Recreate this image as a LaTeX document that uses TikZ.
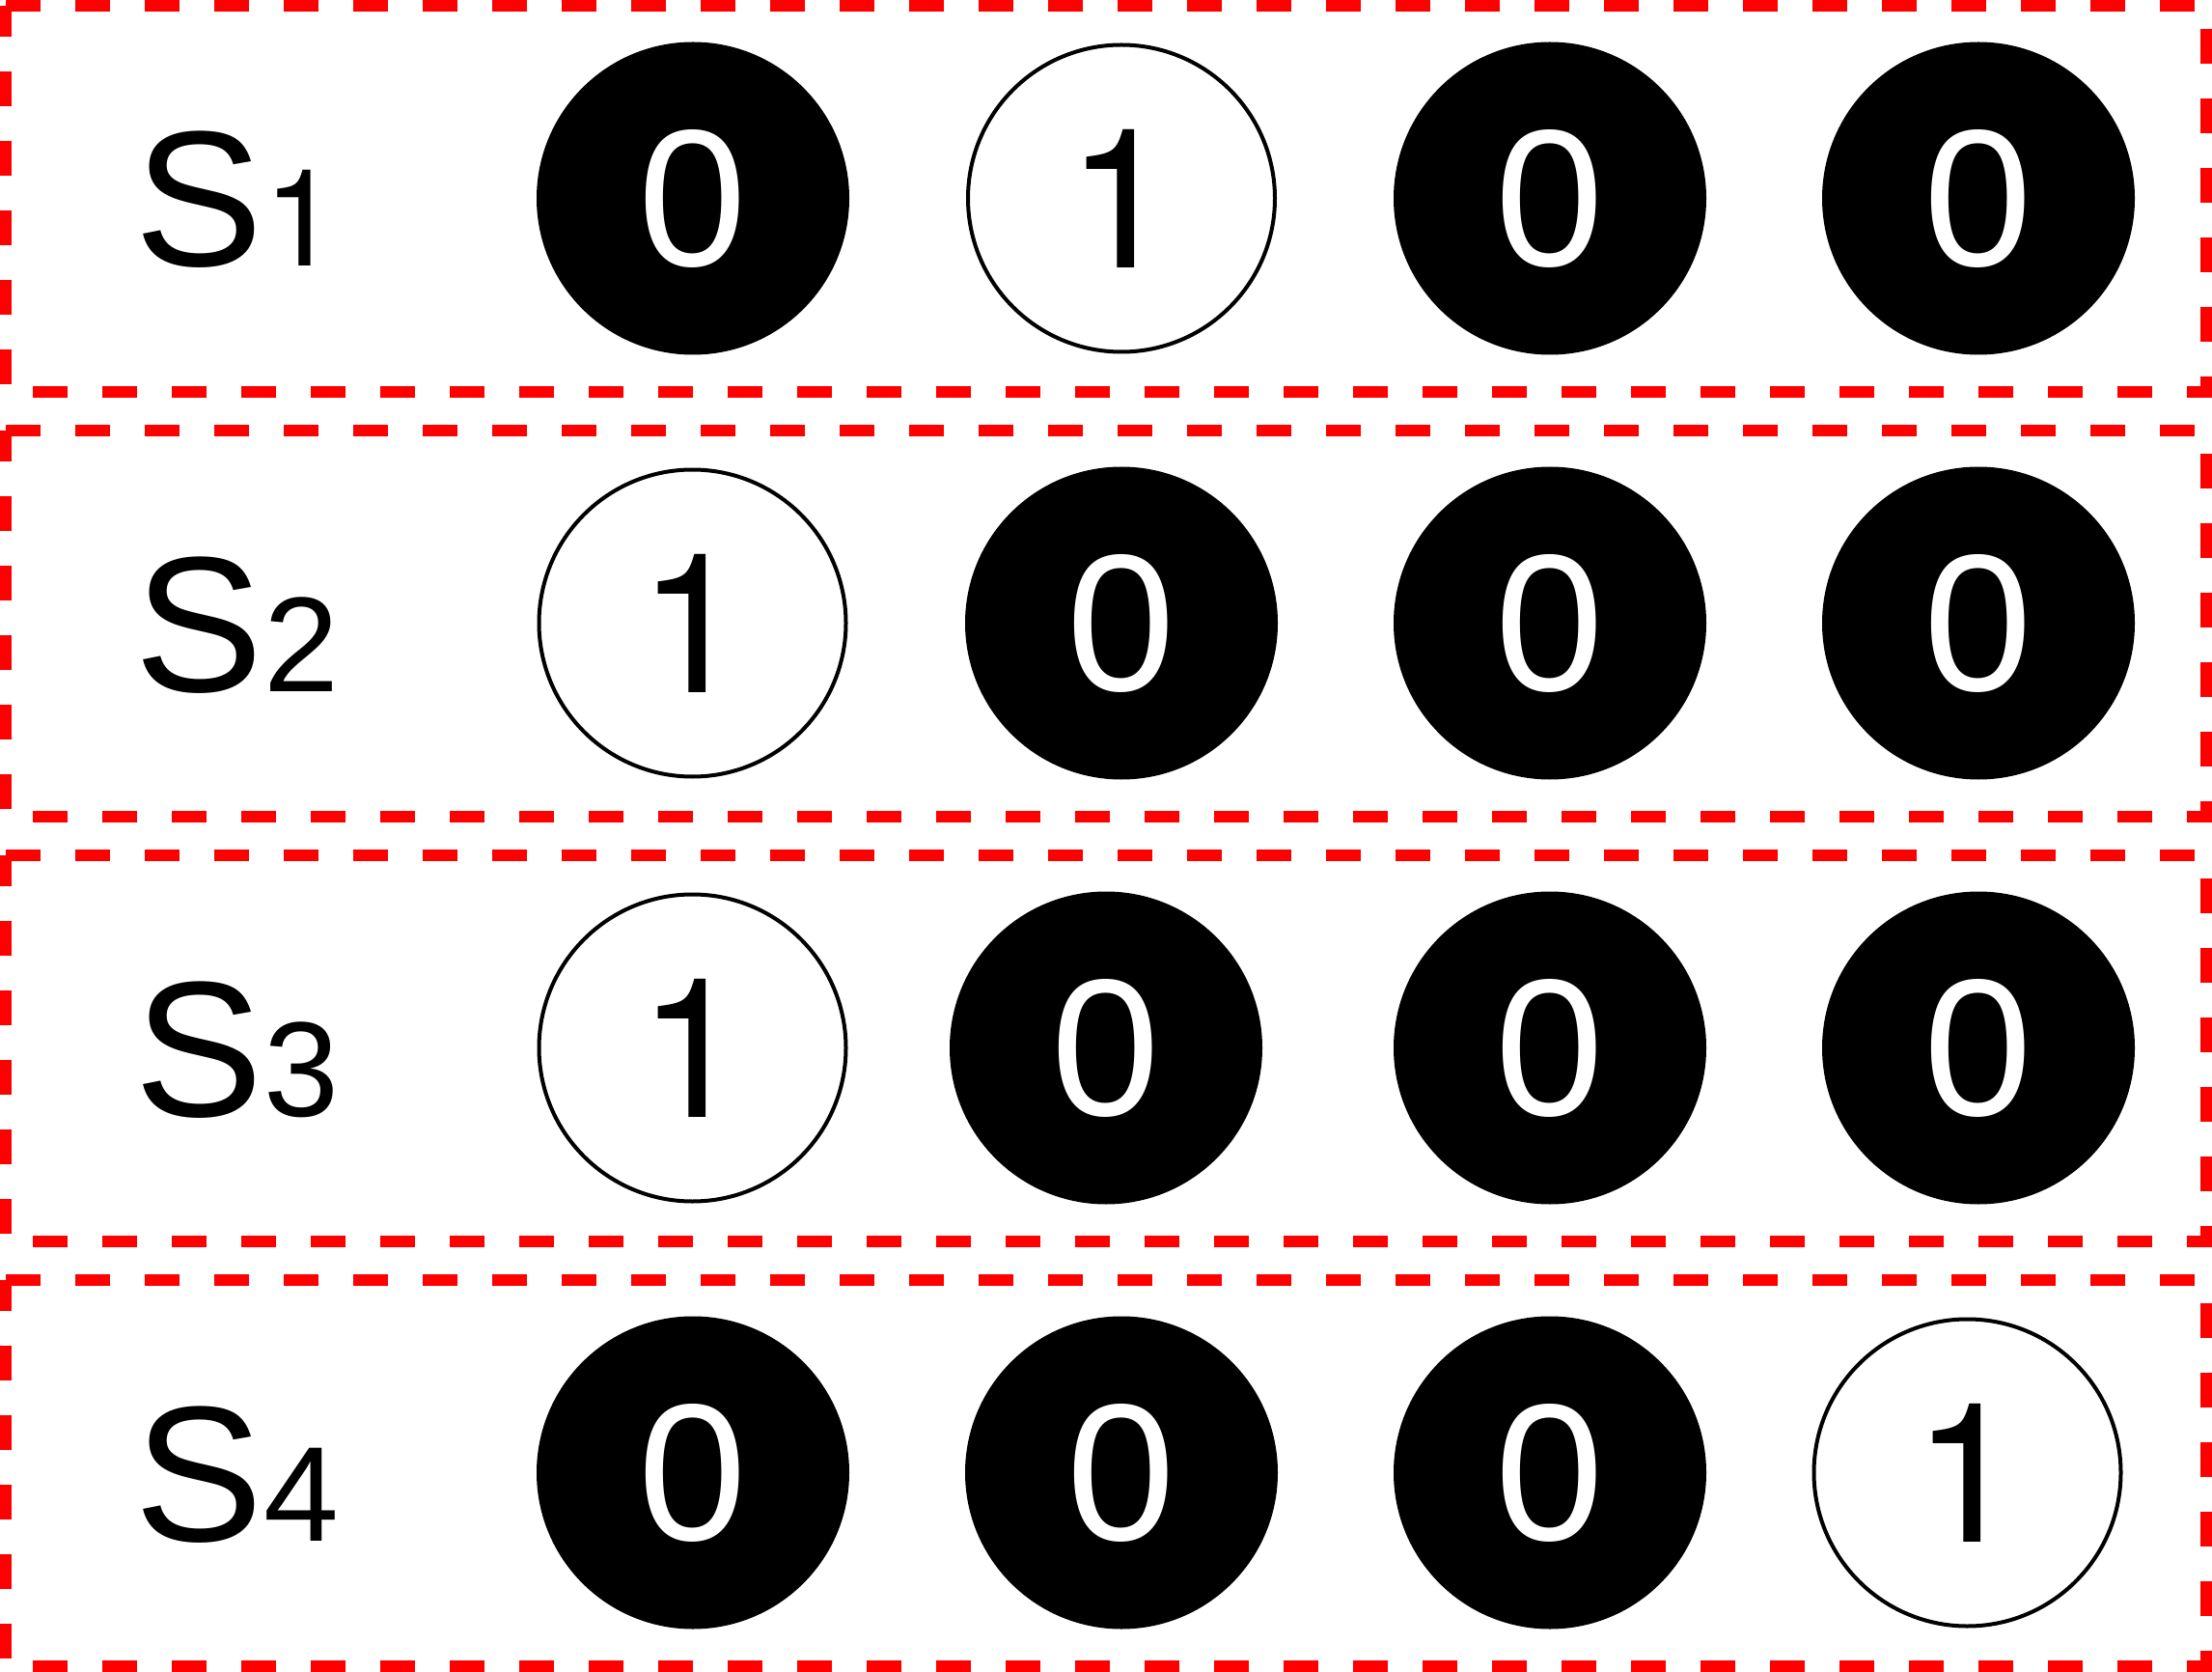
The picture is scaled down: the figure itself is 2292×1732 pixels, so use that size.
\documentclass[tikz,border=0pt]{standalone}
\usepackage{fontspec}
\setmainfont{Liberation Sans}
\newfontfamily\onefont{TeX Gyre Heros}
\begin{document}
\begin{tikzpicture}[x=0.25pt,y=-0.25pt,
  box/.style={draw=red, line width=3pt, dash pattern=on 9pt off 9pt},
  bit/.style={circle, inner sep=0pt, font=\fontsize{50.5}{60}\selectfont},
  zero/.style={bit, fill=black, text=white, minimum size=81pt},
  one/.style={bit, draw=black, fill=white, line width=1pt, minimum size=79.5pt, font=\onefont\fontsize{50.5}{60}\selectfont},
  lbl/.style={anchor=base west, inner sep=0pt, font=\fontsize{50}{60}\selectfont}]
\useasboundingbox (0,0) rectangle (2292,1732);

% dashed frames
\draw[box] (6,6) -- (2286,6) -- (2286,406) -- (6,406) -- cycle;
\draw[box] (6,446) -- (2286,446) -- (2286,846) -- (6,846) -- cycle;
\draw[box] (6,886) -- (2286,886) -- (2286,1286) -- (6,1286) -- cycle;
\draw[box] (6,1326) -- (2286,1326) -- (2286,1726) -- (6,1726) -- cycle;

% labels
\node[lbl] (s1) at (139,276) {S\onefont\fontsize{35}{42}\selectfont 1};
\node[lbl] (s2) at (139,716) {S\fontsize{35}{42}\selectfont 2};
\node[lbl] (s3) at (139,1156) {S\fontsize{35}{42}\selectfont 3};
\node[lbl] (s4) at (139,1596) {S\fontsize{35}{42}\selectfont 4};

% row 1
\node[zero] (r1c1) at (718,205.5) {0};
\node[one]  (r1c2) at (1162,205.5) {1};
\node[zero] (r1c3) at (1606,205.5) {0};
\node[zero] (r1c4) at (2050,205.5) {0};
% row 2
\node[one]  (r2c1) at (717.5,645.5) {1};
\node[zero] (r2c2) at (1162,645.5) {0};
\node[zero] (r2c3) at (1606,645.5) {0};
\node[zero] (r2c4) at (2050,645.5) {0};
% row 3
\node[one]  (r3c1) at (717.5,1085.5) {1};
\node[zero] (r3c2) at (1146,1085.5) {0};
\node[zero] (r3c3) at (1606,1085.5) {0};
\node[zero] (r3c4) at (2050,1085.5) {0};
% row 4
\node[zero] (r4c1) at (718,1525.5) {0};
\node[zero] (r4c2) at (1162,1525.5) {0};
\node[zero] (r4c3) at (1606,1525.5) {0};
\node[one]  (r4c4) at (2038.5,1525.5) {1};
\end{tikzpicture}
\end{document}
